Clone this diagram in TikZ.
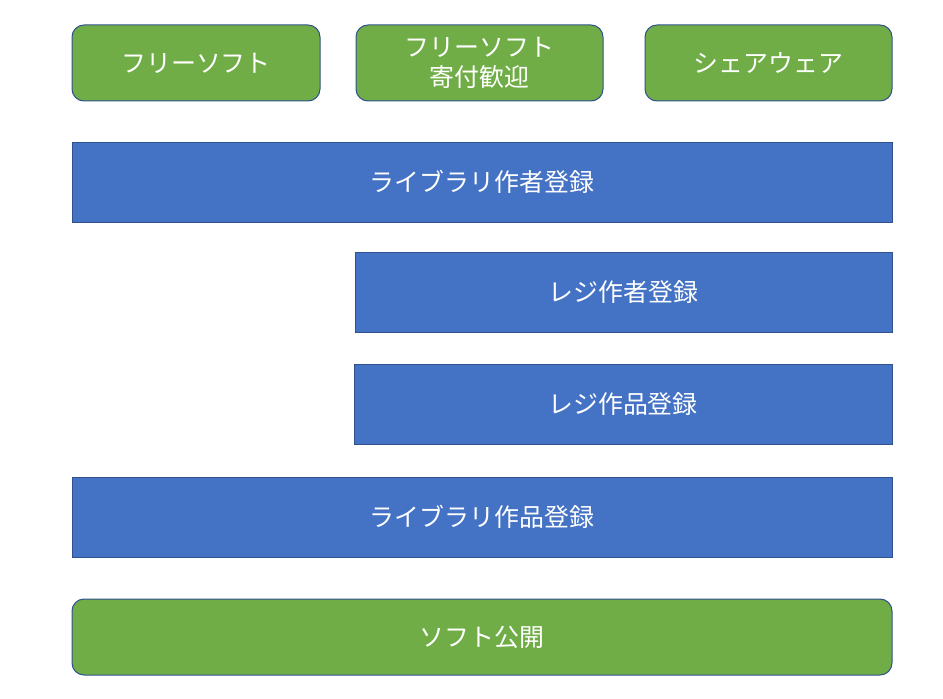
\documentclass[tikz,border=0pt]{standalone}
\usepackage{fontspec}
\setmainfont{Noto Sans CJK JP}
\definecolor{g}{HTML}{70AD47}
\definecolor{b}{HTML}{4472C4}
\definecolor{e}{HTML}{2F528F}
\tikzset{box/.style={draw=e, line width=0.75pt, text=white, align=center, font=\fontsize{18.7}{22}\selectfont, inner sep=0pt}}
\tikzset{greenbox/.style={box, fill=g, rounded corners=9pt, minimum height=57pt}}
\tikzset{bluebox/.style={box, fill=b, minimum height=60pt}}

\begin{document}
\begin{tikzpicture}[x=0.75pt, y=-0.75pt]
		\useasboundingbox (0, 0) rectangle (943, 699);
		\node[greenbox, minimum width=186pt] (free) at (196, 63) {フリーソフト};
		\node[greenbox, minimum width=185.25pt] (donate) at (479.5, 63) {フリーソフト\\寄付歓迎};
		\node[greenbox, minimum width=185.25pt] (share) at (768.5, 63) {シェアウェア};
		\node[bluebox, minimum width=615pt] (libauthor) at (482, 182) {ライブラリ作者登録};
		\node[bluebox, minimum width=402.75pt] (regauthor) at (623.5, 292) {レジ作者登録};
		\node[bluebox, minimum width=403.5pt] (regwork) at (623, 404) {レジ作品登録};
		\node[bluebox, minimum width=615pt] (libwork) at (482, 517) {ライブラリ作品登録};
		\node[greenbox, minimum width=615pt] (publish) at (482, 637) {ソフト公開};
	\end{tikzpicture}
\end{document}
